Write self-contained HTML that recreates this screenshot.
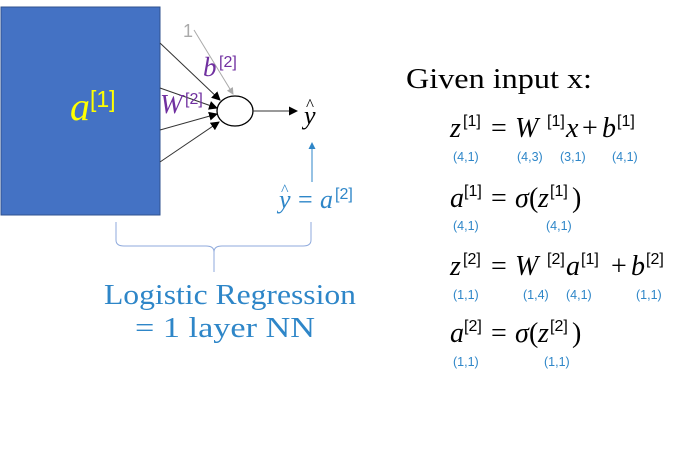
<!DOCTYPE html>
<html><head><meta charset="utf-8"><style>
html,body{margin:0;padding:0;background:#fff;}
svg{display:block;}
.m{font-family:"Liberation Serif",serif;font-style:italic;font-size:28px;fill:#000;}
.n{font-family:"Liberation Serif",serif;font-size:28px;fill:#000;}
.s{font-family:"Liberation Sans",sans-serif;font-size:16px;fill:#000;}
.d{font-family:"Liberation Sans",sans-serif;font-size:12.5px;fill:#2E86C8;}
</style></head><body>
<svg width="688" height="453" viewBox="0 0 688 453" xmlns="http://www.w3.org/2000/svg">
<defs>
<marker id="ak" markerWidth="9" markerHeight="9" refX="8" refY="4.5" orient="auto" markerUnits="userSpaceOnUse"><path d="M0,0 L9,4.5 L0,9 z" fill="#000"/></marker>
<marker id="ag" markerWidth="7" markerHeight="7" refX="6" refY="3.5" orient="auto" markerUnits="userSpaceOnUse"><path d="M0,0 L7,3.5 L0,7 z" fill="#aaa"/></marker>
<marker id="ab" markerWidth="7" markerHeight="7" refX="6" refY="3.5" orient="auto" markerUnits="userSpaceOnUse"><path d="M0,0 L7,3.5 L0,7 z" fill="#2E86C8"/></marker>
</defs>
<rect x="1" y="7" width="159" height="208" fill="#4472C4" stroke="#2F528F" stroke-width="1"/>
<text x="70" y="120" font-family="Liberation Serif,serif" font-style="italic" font-size="40" fill="#FFFF00">a</text>
<text x="90" y="107" font-family="Liberation Sans,sans-serif" font-size="23" fill="#FFFF00">[1]</text>
<line x1="160" y1="43" x2="220" y2="100" stroke="#333" stroke-width="1" marker-end="url(#ak)"/>
<line x1="160" y1="88" x2="217" y2="108" stroke="#333" stroke-width="1" marker-end="url(#ak)"/>
<line x1="160" y1="130" x2="217" y2="114" stroke="#333" stroke-width="1" marker-end="url(#ak)"/>
<line x1="160" y1="162" x2="219" y2="122" stroke="#333" stroke-width="1" marker-end="url(#ak)"/>
<line x1="194" y1="30" x2="233" y2="94" stroke="#aaa" stroke-width="1" marker-end="url(#ag)"/>
<text x="183" y="37" font-family="Liberation Sans,sans-serif" font-size="18" fill="#aaa">1</text>
<text x="203" y="76" font-family="Liberation Serif,serif" font-style="italic" font-size="27" fill="#7030A0">b</text>
<text x="219" y="67" font-family="Liberation Sans,sans-serif" font-size="16" fill="#7030A0">[2]</text>
<text x="160" y="113" font-family="Liberation Serif,serif" font-style="italic" font-size="27" fill="#7030A0">W</text>
<text x="185" y="104" font-family="Liberation Sans,sans-serif" font-size="16" fill="#7030A0">[2]</text>
<ellipse cx="235" cy="111" rx="18" ry="15" fill="#fff" stroke="#000" stroke-width="1.3"/>
<line x1="253" y1="111" x2="297" y2="111" stroke="#333" stroke-width="1" marker-end="url(#ak)"/>
<text x="304" y="124" class="m" style="font-size:26px">y</text>
<text x="306" y="110" font-family="Liberation Serif,serif" font-size="17">^</text>
<line x1="312" y1="182" x2="312" y2="143" stroke="#2E86C8" stroke-width="1" marker-end="url(#ab)"/>
<text x="279" y="208" class="m" style="fill:#2E86C8;font-size:26px">y</text>
<text x="281" y="195" font-family="Liberation Serif,serif" font-size="16" fill="#2E86C8">^</text>
<text x="298" y="208" font-family="Liberation Serif,serif" font-size="26" fill="#2E86C8">=</text>
<text x="320" y="208" class="m" style="fill:#2E86C8;font-size:26px">a</text>
<text x="335" y="199" font-family="Liberation Sans,sans-serif" font-size="16" fill="#2E86C8">[2]</text>
<path d="M116,222 L116,240 Q116,246 124,246 L206,246 Q214,246 214,252 L214,272 M214,252 Q214,246 222,246 L303,246 Q311,246 311,240 L311,222" fill="none" stroke="#8FAADC" stroke-width="1"/>
<text x="104" y="304" textLength="252" lengthAdjust="spacingAndGlyphs" font-family="Liberation Serif,serif" font-size="29" fill="#2E86C8">Logistic Regression</text>
<text x="135" y="337" textLength="180" lengthAdjust="spacingAndGlyphs" font-family="Liberation Serif,serif" font-size="29" fill="#2E86C8">= 1 layer NN</text>
<text x="406" y="88" textLength="186" lengthAdjust="spacingAndGlyphs" font-family="Liberation Serif,serif" font-size="28" fill="#000">Given input x:</text>
<g>
<text x="450" y="137" class="m">z</text><text x="463" y="126" class="s">[1]</text>
<text x="491" y="137" class="n">=</text>
<text x="515" y="137" class="m">W</text><text x="547" y="126" class="s">[1]</text>
<text x="566" y="137" class="m">x</text>
<text x="582" y="137" class="n">+</text>
<text x="602" y="137" class="m">b</text><text x="617" y="126" class="s">[1]</text>
<text x="453" y="161" class="d">(4,1)</text><text x="517" y="161" class="d">(4,3)</text><text x="560" y="161" class="d">(3,1)</text><text x="612" y="161" class="d">(4,1)</text>

<text x="450" y="207" class="m">a</text><text x="464" y="196" class="s">[1]</text>
<text x="491" y="207" class="n">=</text>
<text x="515" y="207" class="m">σ</text><text x="529" y="207" class="n">(</text>
<text x="538" y="207" class="m">z</text><text x="550" y="196" class="s">[1]</text>
<text x="572" y="207" class="n">)</text>
<text x="453" y="230" class="d">(4,1)</text><text x="546" y="230" class="d">(4,1)</text>

<text x="450" y="275" class="m">z</text><text x="463" y="264" class="s">[2]</text>
<text x="491" y="275" class="n">=</text>
<text x="515" y="275" class="m">W</text><text x="547" y="264" class="s">[2]</text>
<text x="566" y="275" class="m">a</text><text x="581" y="264" class="s">[1]</text>
<text x="611" y="275" class="n">+</text>
<text x="631" y="275" class="m">b</text><text x="646" y="264" class="s">[2]</text>
<text x="453" y="299" class="d">(1,1)</text><text x="523" y="299" class="d">(1,4)</text><text x="566" y="299" class="d">(4,1)</text><text x="636" y="299" class="d">(1,1)</text>

<text x="450" y="342" class="m">a</text><text x="464" y="331" class="s">[2]</text>
<text x="491" y="342" class="n">=</text>
<text x="515" y="342" class="m">σ</text><text x="529" y="342" class="n">(</text>
<text x="538" y="342" class="m">z</text><text x="550" y="331" class="s">[2]</text>
<text x="572" y="342" class="n">)</text>
<text x="453" y="366" class="d">(1,1)</text><text x="544" y="366" class="d">(1,1)</text>
</g>
</svg>
</body></html>
